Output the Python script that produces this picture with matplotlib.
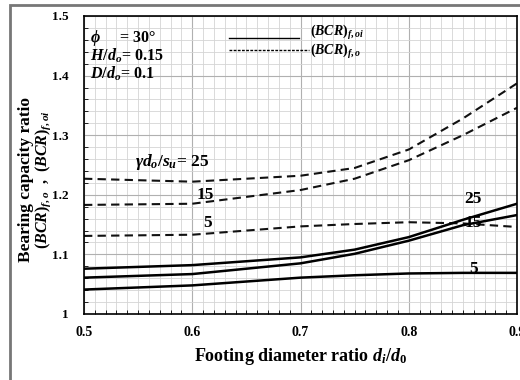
import numpy as np
import matplotlib.pyplot as plt
from matplotlib.patches import Rectangle
from matplotlib.ticker import MultipleLocator

plt.rcParams['font.family'] = 'Liberation Serif'
plt.rcParams['font.weight'] = 'bold'
plt.rcParams['axes.labelweight'] = 'bold'
plt.rcParams['mathtext.fontset'] = 'custom'
plt.rcParams['mathtext.rm'] = 'Liberation Serif:bold'
plt.rcParams['mathtext.it'] = 'Liberation Serif:italic:bold'
plt.rcParams['mathtext.bf'] = 'Liberation Serif:bold'

# footing diameter ratio
ratio = [0.5, 0.6, 0.7, 0.75, 0.8, 0.85, 0.9]

# (BCR)_f,o  dashed
bcr_o_25 = [1.227, 1.222, 1.232, 1.245, 1.276, 1.328, 1.387]
bcr_o_15 = [1.183, 1.185, 1.208, 1.227, 1.258, 1.300, 1.346]
bcr_o_5 = [1.131, 1.133, 1.147, 1.151, 1.154, 1.152, 1.146]

# (BCR)_f,oi  solid
bcr_oi_25 = [1.076, 1.082, 1.095, 1.108, 1.129, 1.158, 1.185]
bcr_oi_15 = [1.061, 1.067, 1.085, 1.101, 1.123, 1.149, 1.166]
bcr_oi_5 = [1.041, 1.048, 1.061, 1.065, 1.068, 1.069, 1.069]

fig = plt.figure(figsize=(5.2, 3.8), dpi=100)
ax = fig.add_axes([84/520, 1 - 314/380, (517-84)/520, (314-16)/380])

dash = (0, (4, 2.5))
for y in [bcr_o_25, bcr_o_15, bcr_o_5]:
    ax.plot(ratio, y, color='#111111', lw=1.5, linestyle=dash)
for y in [bcr_oi_25, bcr_oi_15, bcr_oi_5]:
    ax.plot(ratio, y, color='black', lw=1.8)

ax.set_xlim(0.5, 0.9)
ax.set_ylim(1.0, 1.5)
ax.xaxis.set_major_locator(MultipleLocator(0.1))
ax.xaxis.set_minor_locator(MultipleLocator(0.01))
ax.yaxis.set_major_locator(MultipleLocator(0.1))
ax.yaxis.set_minor_locator(MultipleLocator(0.02))
ax.grid(which='major', color='#b0b0b0', lw=0.8)
ax.grid(which='minor', color='#d4d4d4', lw=0.6)
ax.set_axisbelow(True)
ax.tick_params(which='both', direction='in')
ax.tick_params(which='major', length=0)
ax.tick_params(axis='x', which='major', pad=9)
ax.tick_params(axis='y', which='major', pad=11)
ax.tick_params(which='minor', length=3)
ax.set_xticks([0.5, 0.6, 0.7, 0.8, 0.9])
ax.set_xticklabels(['0.5', '0.6', '0.7', '0.8', '0.9'], fontsize=10, fontweight='bold')
ax.set_yticks([1.0, 1.1, 1.2, 1.3, 1.4, 1.5])
ax.set_yticklabels(['1', '1.1', '1.2', '1.3', '1.4', '1.5'], fontsize=9.5, fontweight='bold')
for s in ax.spines.values():
    s.set_linewidth(1.2)

ax.set_xlabel(r'Footing diameter ratio $d_i/d_0$', fontsize=13, fontweight='bold', labelpad=5)
fig.text(26/520, 1 - 180/380, 'Bearing capacity ratio', rotation=90,
         fontsize=12.5, fontweight='bold', ha='center', va='center')
fig.text(43/520, 1 - 180/380, r'$(BCR)_{f,o}$  ,  $(BCR)_{f,oi}$', rotation=90,
         fontsize=11.5, ha='center', va='center')

# parameters box
ax.text(0.506, 1.463, r'$\phi$     = 30°', fontsize=11.5, fontweight='bold', va='center')
ax.text(0.506, 1.433, r'$H/d_o$= 0.15', fontsize=11.5, fontweight='bold', va='center')
ax.text(0.506, 1.403, r'$D/d_o$= 0.1', fontsize=11.5, fontweight='bold', va='center')

# legend drawn by hand
ax.plot([0.634, 0.699], [1.463, 1.463], color='black', lw=1)
ax.plot([0.634, 0.708], [1.443, 1.443], color='black', lw=1, linestyle=(0, (2, 1)))
ax.text(0.709, 1.472, r'$(BCR)_{f,oi}$', fontsize=10, va='center')
ax.text(0.709, 1.441, r'$(BCR)_{f,o}$', fontsize=10, va='center')

# curve labels
ax.text(0.581, 1.255, r'$\gamma d_o/s_u$= 25', fontsize=12.5, fontweight='bold', ha='center', va='center')
ax.text(0.612, 1.200, '15', fontsize=12.5, fontweight='bold', ha='center', va='center')
ax.text(0.614, 1.153, '5', fontsize=12.5, fontweight='bold', ha='center', va='center')
ax.text(0.859, 1.193, '25', fontsize=12.5, fontweight='bold', ha='center', va='center')
ax.text(0.860, 1.152, '15', fontsize=12.5, fontweight='bold', ha='center', va='center')
ax.text(0.860, 1.076, '5', fontsize=12.5, fontweight='bold', ha='center', va='center')

fig.add_artist(Rectangle((10/520, -0.2), 1.5, 1.2 - 5/380, transform=fig.transFigure,
                         fill=False, edgecolor='#777777', lw=2))

fig.savefig('out.png', dpi=100)
